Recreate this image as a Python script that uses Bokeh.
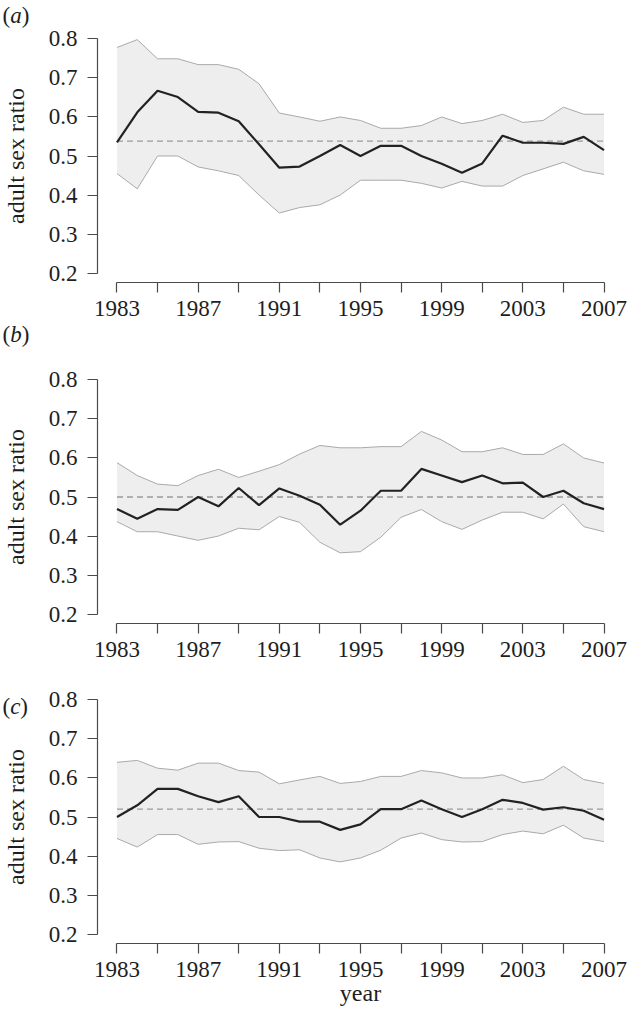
import math
from bokeh.plotting import figure
from bokeh.layouts import column, row
from bokeh.models import Range1d, FixedTicker
from bokeh.core.properties import value
from bokeh.embed import file_html
from bokeh.resources import INLINE

# ---------------- data ----------------
years = list(range(1983, 2008))
x_ticks = list(range(1983, 2008, 2))
x_tick_labels = ["1983", "", "1987", "", "1991", "", "1995", "", "1999", "", "2003", "", "2007"]
y_ticks = [0.2, 0.3, 0.4, 0.5, 0.6, 0.7, 0.8]
y_tick_labels = ["0.2", "0.3", "0.4", "0.5", "0.6", "0.7", "0.8"]
panel_letters = ["a", "b", "c"]
y_title = "adult sex ratio"
x_title = "year"

a_mean = [0.535, 0.612, 0.667, 0.651, 0.613, 0.611, 0.589, 0.530, 0.470, 0.473, 0.500, 0.528, 0.500,
          0.526, 0.526, 0.500, 0.480, 0.457, 0.481, 0.552, 0.534, 0.534, 0.531, 0.549, 0.515]
a_upper = [0.778, 0.798, 0.749, 0.749, 0.734, 0.734, 0.722, 0.685, 0.610, 0.600, 0.589, 0.600, 0.591,
           0.571, 0.571, 0.578, 0.600, 0.583, 0.591, 0.607, 0.586, 0.591, 0.625, 0.607, 0.607]
a_lower = [0.455, 0.416, 0.500, 0.500, 0.472, 0.462, 0.450, 0.400, 0.354, 0.368, 0.375, 0.400, 0.438,
           0.438, 0.438, 0.430, 0.418, 0.435, 0.423, 0.423, 0.450, 0.467, 0.484, 0.462, 0.453]
a_ref = 0.538

b_mean = [0.469, 0.444, 0.469, 0.467, 0.500, 0.476, 0.523, 0.479, 0.522, 0.503, 0.480, 0.429, 0.465,
          0.516, 0.516, 0.572, 0.555, 0.538, 0.555, 0.535, 0.537, 0.500, 0.516, 0.484, 0.469]
b_upper = [0.588, 0.555, 0.533, 0.529, 0.555, 0.571, 0.550, 0.566, 0.583, 0.610, 0.632, 0.626, 0.626,
           0.629, 0.629, 0.668, 0.646, 0.616, 0.616, 0.626, 0.609, 0.609, 0.636, 0.600, 0.587]
b_lower = [0.437, 0.411, 0.411, 0.400, 0.389, 0.400, 0.420, 0.416, 0.450, 0.435, 0.384, 0.357, 0.360,
           0.397, 0.448, 0.468, 0.437, 0.417, 0.441, 0.461, 0.461, 0.444, 0.482, 0.424, 0.411]
b_ref = 0.500

c_mean = [0.500, 0.530, 0.572, 0.572, 0.553, 0.538, 0.553, 0.500, 0.500, 0.488, 0.488, 0.467, 0.481,
          0.520, 0.520, 0.542, 0.520, 0.500, 0.520, 0.544, 0.536, 0.519, 0.525, 0.516, 0.493]
c_upper = [0.640, 0.645, 0.625, 0.620, 0.638, 0.638, 0.619, 0.615, 0.585, 0.595, 0.604, 0.586, 0.591,
           0.604, 0.604, 0.619, 0.613, 0.600, 0.600, 0.608, 0.588, 0.596, 0.630, 0.596, 0.586]
c_lower = [0.445, 0.423, 0.455, 0.455, 0.430, 0.436, 0.437, 0.420, 0.414, 0.416, 0.395, 0.385, 0.395,
           0.415, 0.446, 0.459, 0.442, 0.436, 0.437, 0.455, 0.464, 0.457, 0.479, 0.446, 0.437]
c_ref = 0.520

# ---------------- style / layout ----------------
FONT = "Liberation Serif"
TEXT = "#1e1e1e"
AXIS = "#4a4a4a"
SIDE_W = 30                      # strip on the left holding y titles and panel letters
FRAME_W, FRAME_H = 526, 253
BORDER_L = 97 - SIDE_W
BORDER_R = 5
# (top border, bottom border) of each panel
borders = [(29, 44), (44, 44), (23, 70)]

x_pad = 0.04 * (years[-1] - years[0])
y_pad = 0.04 * (y_ticks[-1] - y_ticks[0])
x0, x1 = years[0] - x_pad, years[-1] + x_pad
y0, y1 = y_ticks[0] - y_pad, y_ticks[-1] + y_pad
ppy = FRAME_H / (y1 - y0)


def make_panel(mean, upper, lower, ref, top, bottom, xlabel=None):
    p = figure(frame_width=FRAME_W, frame_height=FRAME_H,
               x_range=Range1d(x0, x1), y_range=Range1d(y0, y1),
               output_backend="svg", toolbar_location=None,
               min_border_left=BORDER_L, min_border_right=BORDER_R,
               min_border_top=top, min_border_bottom=bottom,
               outline_line_color=None, background_fill_color="white",
               border_fill_color="white")
    p.grid.visible = False

    p.varea(x=years, y1=lower, y2=upper, fill_color="#eeeeee", fill_alpha=1.0)
    p.line(years, upper, line_color="#a9a9a9", line_width=1)
    p.line(years, lower, line_color="#a9a9a9", line_width=1)
    p.line([years[0], years[-1]], [ref, ref], line_color="#9a9a9a",
           line_width=1.3, line_dash="6 4")
    p.line(years, mean, line_color="#222222", line_width=2.2)

    for ax in (p.xaxis[0], p.yaxis[0]):
        ax.axis_line_color = AXIS
        ax.axis_line_width = 1.2
        ax.major_tick_line_color = AXIS
        ax.major_tick_line_width = 1.2
        ax.major_tick_in = 0
        ax.major_tick_out = 10
        ax.minor_tick_line_color = None
        ax.major_label_text_font = FONT
        ax.major_label_text_font_size = "23px"
        ax.major_label_text_color = TEXT

    xa = p.xaxis[0]
    xa.bounds = (years[0], years[-1])
    xa.ticker = FixedTicker(ticks=x_ticks)
    xa.major_label_overrides = {t: l for t, l in zip(x_ticks, x_tick_labels)}
    xa.major_label_standoff = 8
    if xlabel:
        xa.axis_label = xlabel
        xa.axis_label_text_font = FONT
        xa.axis_label_text_font_size = "24px"
        xa.axis_label_text_font_style = "normal"
        xa.axis_label_text_color = TEXT
        xa.axis_label_standoff = 0

    ya = p.yaxis[0]
    ya.bounds = (y_ticks[0], y_ticks[-1])
    ya.ticker = FixedTicker(ticks=y_ticks)
    ya.major_label_overrides = {t: l for t, l in zip(y_ticks, y_tick_labels)}
    ya.major_label_standoff = 10
    return p


panels_data = [(a_mean, a_upper, a_lower, a_ref),
               (b_mean, b_upper, b_lower, b_ref),
               (c_mean, c_upper, c_lower, c_ref)]
panels = []
for i, (m, u, l, r) in enumerate(panels_data):
    top, bottom = borders[i]
    panels.append(make_panel(m, u, l, r, top, bottom, xlabel=x_title if i == 2 else None))

# ---------------- left strip: y titles + panel letters (pixel coordinates, y up) ----------------
heights = [t + FRAME_H + b for t, b in borders]
total_h = sum(heights)
side = figure(width=SIDE_W, height=total_h, x_range=Range1d(0, SIDE_W),
              y_range=Range1d(0, total_h), x_axis_type=None, y_axis_type=None,
              output_backend="svg", toolbar_location=None, min_border=0,
              outline_line_color=None, background_fill_color="white",
              border_fill_color="white")
side.grid.visible = False


def from_top(px):
    return total_h - px


panel_top = [sum(heights[:i]) for i in range(3)]
frame_top = [panel_top[i] + borders[i][0] for i in range(3)]
# vertical centre of the y title = value 0.5 of each panel
title_y = [from_top(frame_top[i] + (y1 - 0.5) * ppy) for i in range(3)]
side.text(x=[15] * 3, y=title_y, text=[y_title] * 3, angle=math.pi / 2,
          text_align="center", text_baseline="middle",
          text_font=value(FONT), text_font_size="24px", text_color=TEXT)

# letter centres (pixels from top, relative to frame tops)
letter_mid = [from_top(v) for v in (frame_top[0] - 14, frame_top[1] - 36, frame_top[2] + 16)]
fs = 23
paren_w = 0.333 * fs
letter_w = {"a": 0.5 * fs, "b": 0.5 * fs, "c": 0.444 * fs}
lx, ly, lt = [], [], []
for i, L in enumerate(panel_letters):
    lx += [2, 2 + paren_w + letter_w[L]]
    ly += [letter_mid[i], letter_mid[i]]
    lt += ["(", ")"]
side.text(x=lx, y=ly, text=lt, text_align="left", text_baseline="middle",
          text_font=value(FONT), text_font_size=f"{fs}px", text_color=TEXT)
side.text(x=[2 + paren_w] * 3, y=letter_mid, text=panel_letters, text_align="left",
          text_baseline="middle", text_font=value(FONT), text_font_size=f"{fs}px",
          text_font_style="italic", text_color=TEXT)

layout = row(side, column(*panels, spacing=0), spacing=0)
open("out.html", "w").write(file_html(layout, INLINE))
